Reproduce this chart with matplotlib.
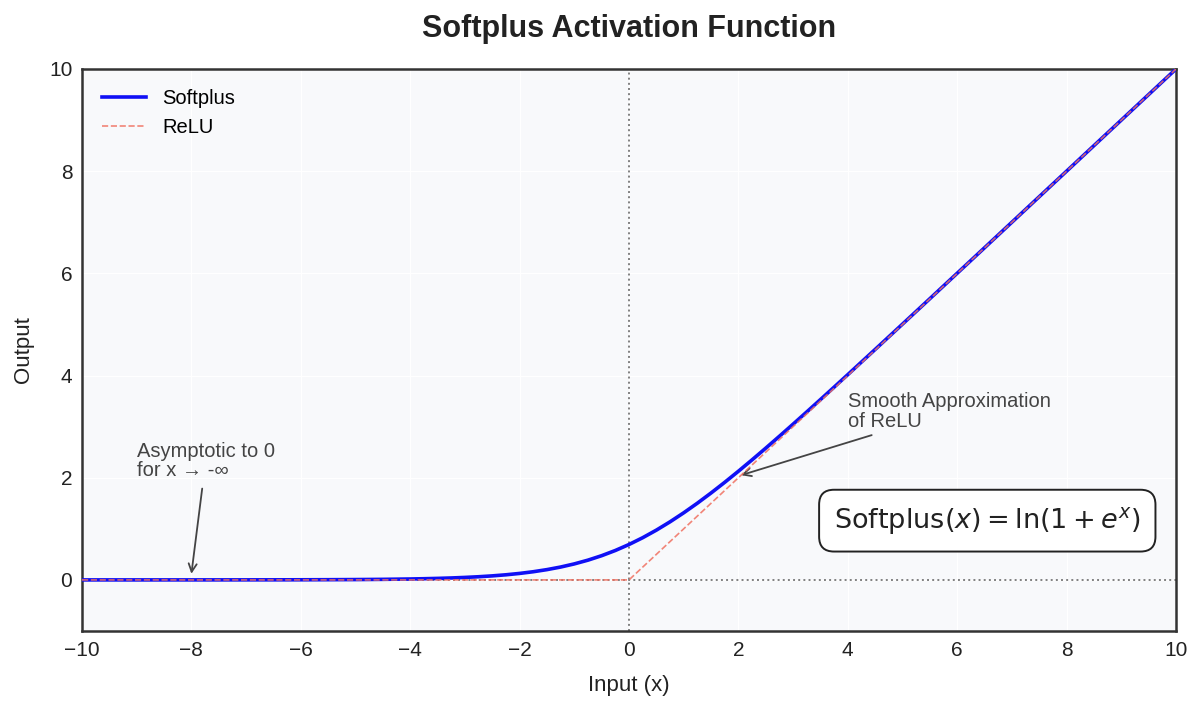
import matplotlib
matplotlib.use("Agg")
import matplotlib.pyplot as plt

# Data
x_softplus = [-10, -9.5, -9, -8.5, -8, -7.5, -7, -6.5, -6, -5.5, -5, -4.5,
              -4, -3.75, -3.5, -3.25, -3, -2.75, -2.5, -2.25, -2, -1.75, -1.5, -1.25,
              -1, -0.75, -0.5, -0.25, 0, 0.25, 0.5, 0.75, 1, 1.25, 1.5, 1.75,
              2, 2.25, 2.5, 2.75, 3, 3.25, 3.5, 3.75, 4,
              4.5, 5, 5.5, 6, 6.5, 7, 7.5, 8, 8.5, 9, 9.5, 10]
y_softplus = [0.0000, 0.0001, 0.0001, 0.0002, 0.0003, 0.0006, 0.0009, 0.0015, 0.0025, 0.0041,
              0.0067, 0.0110,
              0.0182, 0.0232, 0.0298, 0.0380, 0.0486, 0.0620, 0.0789, 0.1002, 0.1269, 0.1602,
              0.2014, 0.2519,
              0.3133, 0.3869, 0.4741, 0.5759, 0.6931, 0.8259, 0.9741, 1.1369, 1.3133, 1.5019,
              1.7014, 1.9102,
              2.1269, 2.3502, 2.5789, 2.8120, 3.0486, 3.2880, 3.5298, 3.7732, 4.0182,
              4.5110, 5.0067, 5.5041, 6.0025, 6.5015, 7.0009, 7.5006, 8.0003, 8.5002, 9.0001,
              9.5001, 10.0000]
x_relu = [-10, 0, 10]
y_relu = [0, 0, 10]
x_ticks = [-10, -8, -6, -4, -2, 0, 2, 4, 6, 8, 10]
y_ticks = [0, 2, 4, 6, 8, 10]

plt.rcParams['font.family'] = ['Liberation Sans', 'DejaVu Sans']

fig = plt.figure(figsize=(12, 7.08), dpi=100)
ax = fig.add_axes([82/1200, 1-631/708, 1094/1200, 562/708])
ax.set_facecolor('#f8f9fb')
ax.grid(True, color='white', linewidth=0.8)
ax.set_axisbelow(True)

ax.axhline(0, color='gray', linestyle=':', linewidth=1.4, zorder=1)
ax.axvline(0, color='gray', linestyle=':', linewidth=1.4, zorder=1)

ax.plot(x_softplus, y_softplus, color='#1010f5', linewidth=2.6, label='Softplus', zorder=3)
ax.plot(x_relu, y_relu, color='#f07060', linestyle='--', linewidth=1.2, alpha=0.85,
        label='ReLU', zorder=4)

ax.set_xlim(-10, 10)
ax.set_ylim(-1, 10)
ax.set_xticks(x_ticks)
ax.set_yticks(y_ticks)
ax.tick_params(labelsize=15, length=0, pad=7, colors='#222222')
for s in ax.spines.values():
    s.set_color('#333333')
    s.set_linewidth(1.8)

ax.set_xlabel('Input (x)', fontsize=16, color='#222222', labelpad=11)
ax.set_ylabel('Output', fontsize=16, color='#222222', labelpad=11)
ax.set_title('Softplus Activation Function', fontsize=22, fontweight='bold',
             color='#222222', pad=23)

ax.legend(loc='upper left', frameon=False, fontsize=14.5, handlelength=2.2,
          borderaxespad=0.6, labelspacing=0.5)

ax.annotate('Asymptotic to 0\nfor x → -∞', xy=(-8, 0.12), xytext=(-9, 1.95),
            fontsize=14.5, color='#444444', ha='left', va='bottom', linespacing=1.05,
            arrowprops=dict(arrowstyle='->', color='#444444', lw=1.3, shrinkA=4, shrinkB=0))
ax.annotate('Smooth Approximation\nof ReLU', xy=(2.05, 2.05), xytext=(4, 2.92),
            fontsize=14.5, color='#444444', ha='left', va='bottom', linespacing=1.05,
            arrowprops=dict(arrowstyle='->', color='#444444', lw=1.3, shrinkA=4, shrinkB=0))

ax.text(6.55, 1.16, r'$\mathrm{Softplus}(x) = \ln(1 + e^{x})$', fontsize=19.5,
        ha='center', va='center', color='#222222', family='DejaVu Sans',
        bbox=dict(boxstyle='round,pad=0.55', facecolor='white', edgecolor='#222222', linewidth=1.4))

fig.savefig('out.png', dpi=100)
